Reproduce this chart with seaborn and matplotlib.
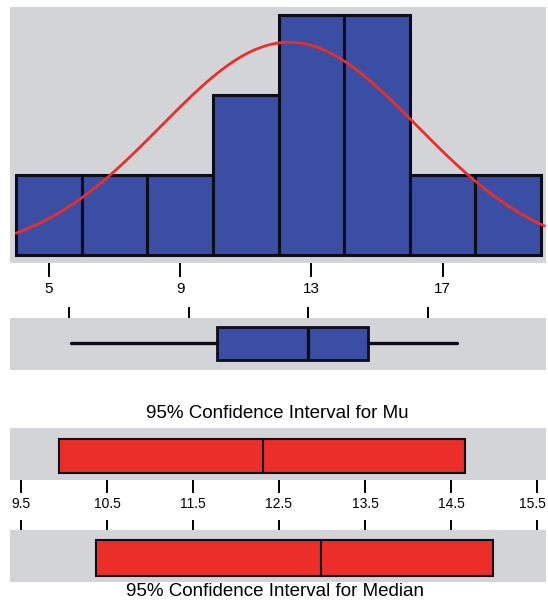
import numpy as np
import pandas as pd
import matplotlib
matplotlib.use("Agg")
import matplotlib.pyplot as plt
import matplotlib.transforms as mtransforms
import seaborn as sns

# ---- data ----
bin_edges = [4, 6, 8, 10, 12, 14, 16, 18, 20]
bin_counts = [1, 1, 1, 2, 3, 3, 1, 1]
fit_mean = 12.32
fit_sd = 3.9
n_obs = 13

box_stats = {"whislo": 5.07, "q1": 9.95, "med": 13.0, "q3": 15.0, "whishi": 17.98}
hist_ticks = [5, 9, 13, 17]

mu_ci = [9.94, 14.66]
mu_est = 12.31
median_ci = [10.37, 14.99]
median_est = 12.99
ci_ticks = [9.5, 10.5, 11.5, 12.5, 13.5, 14.5, 15.5]
ci_labels = ["9.5", "10.5", "11.5", "12.5", "13.5", "14.5", "15.5"]

# ---- style ----
sns.set_theme(style="white")
plt.rcParams["font.family"] = ["Liberation Sans", "DejaVu Sans"]

PANEL = "#d3d4d7"
BLUE = "#3a4ea3"
RED = "#ec2e28"
EDGE = "#0d0d1a"

W, H = 548, 601
fig = plt.figure(figsize=(W / 100, H / 100), dpi=100)
fig.patch.set_facecolor("white")


def px_axes(x0, y0, x1, y1):
    return fig.add_axes([x0 / W, 1 - y1 / H, (x1 - x0) / W, (y1 - y0) / H])


def clean(ax):
    ax.set_facecolor(PANEL)
    for s in ax.spines.values():
        s.set_visible(False)
    ax.set_xlabel("")
    ax.set_ylabel("")
    ax.set_yticks([])


# ---- histogram with fitted normal curve ----
ax_h = px_axes(10, 7, 546, 263)
centers = [(a + b) / 2 for a, b in zip(bin_edges[:-1], bin_edges[1:])]
hist_df = pd.DataFrame({"value": centers, "count": bin_counts})
sns.histplot(data=hist_df, x="value", weights="count", bins=bin_edges,
             color=BLUE, edgecolor=EDGE, linewidth=2.2, alpha=1, ax=ax_h)
bw = bin_edges[1] - bin_edges[0]
xs = np.linspace(bin_edges[0], bin_edges[-1] + 0.1, 300)
ys = n_obs * bw * np.exp(-0.5 * ((xs - fit_mean) / fit_sd) ** 2) / (fit_sd * np.sqrt(2 * np.pi))
sns.lineplot(x=xs, y=ys, color=RED, linewidth=2.0, ax=ax_h)
ax_h.set_xlim(3.81, 20.15)
ax_h.set_ylim(-0.1, 3.1)
clean(ax_h)
ax_h.set_xticks(hist_ticks)
ax_h.set_xticklabels([str(t) for t in hist_ticks])
ax_h.tick_params(axis="x", bottom=True, direction="out", length=10, width=1.4,
                 color="black", pad=4, labelsize=11, labelcolor="black")

# ---- boxplot ----
ax_b = px_axes(10, 318, 546, 370)
ax_b.bxp([box_stats], positions=[0.51], widths=0.635, orientation="horizontal",
         showfliers=False, showcaps=False, patch_artist=True,
         boxprops=dict(facecolor=BLUE, edgecolor=EDGE, linewidth=2.0),
         whiskerprops=dict(color=EDGE, linewidth=2.4),
         medianprops=dict(color=EDGE, linewidth=2.4))
ax_b.set_xlim(3.03, 20.95)
ax_b.set_ylim(0, 1)
clean(ax_b)
ax_b.set_xticks(hist_ticks)
ax_b.tick_params(axis="x", bottom=False, top=True, labelbottom=False, labeltop=False,
                 direction="out", length=8, width=1.4, color="black")

fig.text(277 / W, 1 - 413 / H, "95% Confidence Interval for Mu",
         ha="center", va="center", fontsize=13.5, color="black")

# ---- confidence interval for the mean ----
ax_mu = px_axes(10, 428, 546, 480)
ax_mu.barh([0.46], [mu_ci[1] - mu_ci[0]], left=[mu_ci[0]], height=0.654,
           color=RED, edgecolor=EDGE, linewidth=1.5)
ax_mu.vlines([mu_est], 0.133, 0.787, color=EDGE, linewidth=1.5)
ax_mu.set_xlim(9.372, 15.605)
ax_mu.set_ylim(0, 1)
clean(ax_mu)
ax_mu.set_xticks(ci_ticks)
ax_mu.set_xticklabels(ci_labels)
ax_mu.tick_params(axis="x", bottom=True, direction="out", length=9, width=1.4,
                  color="black", pad=3, labelsize=10, labelcolor="black")
# keep the last label inside the figure edge
last = ax_mu.get_xticklabels()[-1]
last.set_transform(last.get_transform() +
                   mtransforms.ScaledTranslation(-5 / 100, 0, fig.dpi_scale_trans))

# ---- confidence interval for the median ----
ax_md = px_axes(10, 530, 546, 582)
ax_md.barh([0.46], [median_ci[1] - median_ci[0]], left=[median_ci[0]], height=0.692,
           color=RED, edgecolor=EDGE, linewidth=1.5)
ax_md.vlines([median_est], 0.115, 0.807, color=EDGE, linewidth=1.5)
ax_md.set_xlim(9.372, 15.605)
ax_md.set_ylim(0, 1)
clean(ax_md)
ax_md.set_xticks(ci_ticks)
ax_md.tick_params(axis="x", bottom=False, top=True, labelbottom=False, labeltop=False,
                  direction="out", length=7, width=1.4, color="black")

fig.text(275 / W, 1 - 592 / H, "95% Confidence Interval for Median",
         ha="center", va="center", fontsize=13.5, color="black")

fig.savefig("out.png", dpi=100, facecolor="white")
